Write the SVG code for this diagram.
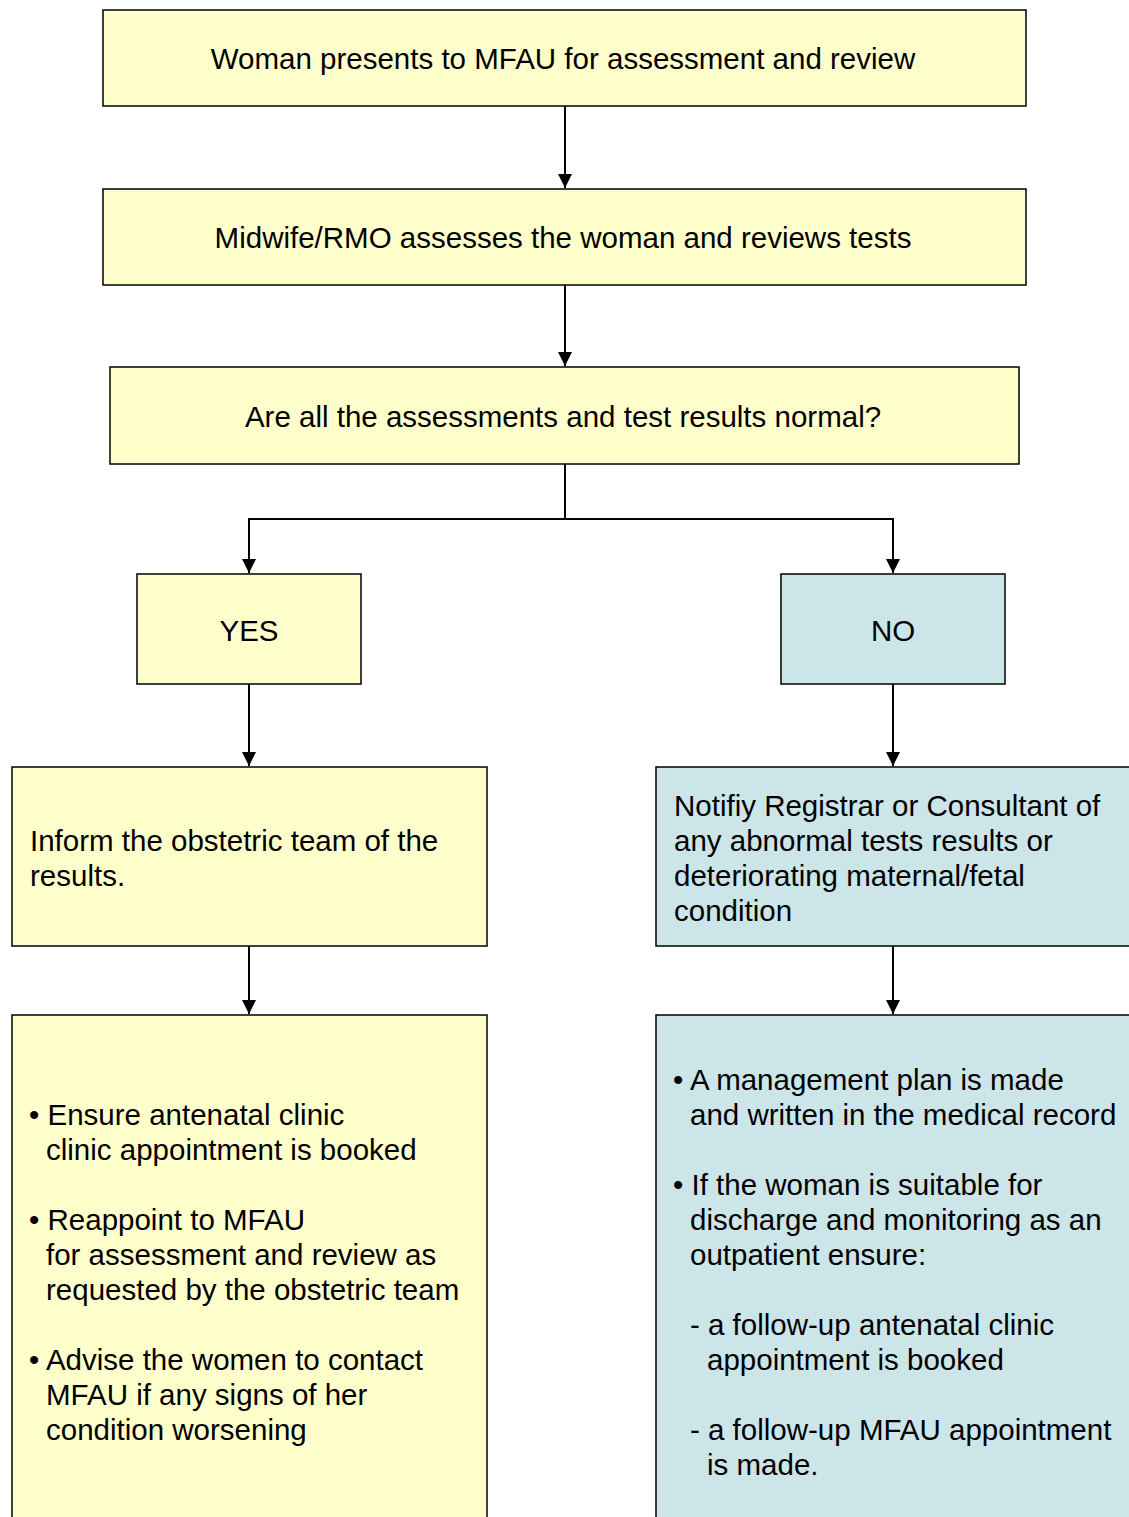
<svg xmlns="http://www.w3.org/2000/svg" width="1129" height="1517" viewBox="0 0 1129 1517">
<style>
.y{fill:#FFFFCC;stroke:#000;stroke-width:1.5}
.b{fill:#CCE5E8;stroke:#000;stroke-width:1.5}
text{font-family:"Liberation Sans",Arial,sans-serif;font-size:29.5px;fill:#000}
.c{text-anchor:middle}
.ln{fill:none;stroke:#000;stroke-width:2}
</style>
<defs>
<marker id="a" markerWidth="14" markerHeight="14" refX="14" refY="7" orient="auto" markerUnits="userSpaceOnUse" viewBox="0 0 14 14">
<path d="M0,0 L14,7 L0,14 z" fill="#000"/>
</marker>
</defs>
<rect width="1129" height="1517" fill="#fff"/>
<g id="connectors">
<path class="ln" d="M565,106 V188" marker-end="url(#a)"/>
<path class="ln" d="M565,285 V366" marker-end="url(#a)"/>
<path class="ln" d="M565,464 V519 M249,519 H893"/>
<path class="ln" d="M249,518 V573" marker-end="url(#a)"/>
<path class="ln" d="M893,518 V573" marker-end="url(#a)"/>
<path class="ln" d="M249,684 V766" marker-end="url(#a)"/>
<path class="ln" d="M893,684 V766" marker-end="url(#a)"/>
<path class="ln" d="M249,946 V1014" marker-end="url(#a)"/>
<path class="ln" d="M893,946 V1014" marker-end="url(#a)"/>
</g>
<g id="n1"><rect class="y" x="103" y="10" width="923" height="96"/><text class="c" x="563" y="69">Woman presents to MFAU for assessment and review</text></g>
<g id="n2"><rect class="y" x="103" y="189" width="923" height="96"/><text class="c" x="563" y="248">Midwife/RMO assesses the woman and reviews tests</text></g>
<g id="n3"><rect class="y" x="110" y="367" width="909" height="97"/><text class="c" x="563" y="427">Are all the assessments and test results normal?</text></g>
<g id="yes"><rect class="y" x="137" y="574" width="224" height="110"/><text class="c" x="249" y="641">YES</text></g>
<g id="no"><rect class="b" x="781" y="574" width="224" height="110"/><text class="c" x="893" y="641">NO</text></g>
<g id="inform"><rect class="y" x="12" y="767" width="475" height="179"/>
<text x="30" y="851">Inform the obstetric team of the</text>
<text x="30" y="886">results.</text></g>
<g id="notify"><rect class="b" x="656" y="767" width="480" height="179"/>
<text x="674" y="816">Notifiy Registrar or Consultant of</text>
<text x="674" y="851">any abnormal tests results or</text>
<text x="674" y="886">deteriorating maternal/fetal</text>
<text x="674" y="921">condition</text></g>
<g id="yesactions"><rect class="y" x="12" y="1015" width="475" height="520"/>
<text x="29" y="1125">• Ensure antenatal clinic</text>
<text x="46" y="1160">clinic appointment is booked</text>
<text x="29" y="1230">• Reappoint to MFAU</text>
<text x="46" y="1265">for assessment and review as</text>
<text x="46" y="1300">requested by the obstetric team</text>
<text x="29" y="1370">• Advise the women to contact</text>
<text x="46" y="1405">MFAU if any signs of her</text>
<text x="46" y="1440">condition worsening</text></g>
<g id="noactions"><rect class="b" x="656" y="1015" width="480" height="520"/>
<text x="673" y="1090">• A management plan is made</text>
<text x="690" y="1125">and written in the medical record</text>
<text x="673" y="1195">• If the woman is suitable for</text>
<text x="690" y="1230">discharge and monitoring as an</text>
<text x="690" y="1265">outpatient ensure:</text>
<text x="690" y="1335">- a follow-up antenatal clinic</text>
<text x="707" y="1370">appointment is booked</text>
<text x="690" y="1440">- a follow-up MFAU appointment</text>
<text x="707" y="1475">is made.</text></g>
</svg>
